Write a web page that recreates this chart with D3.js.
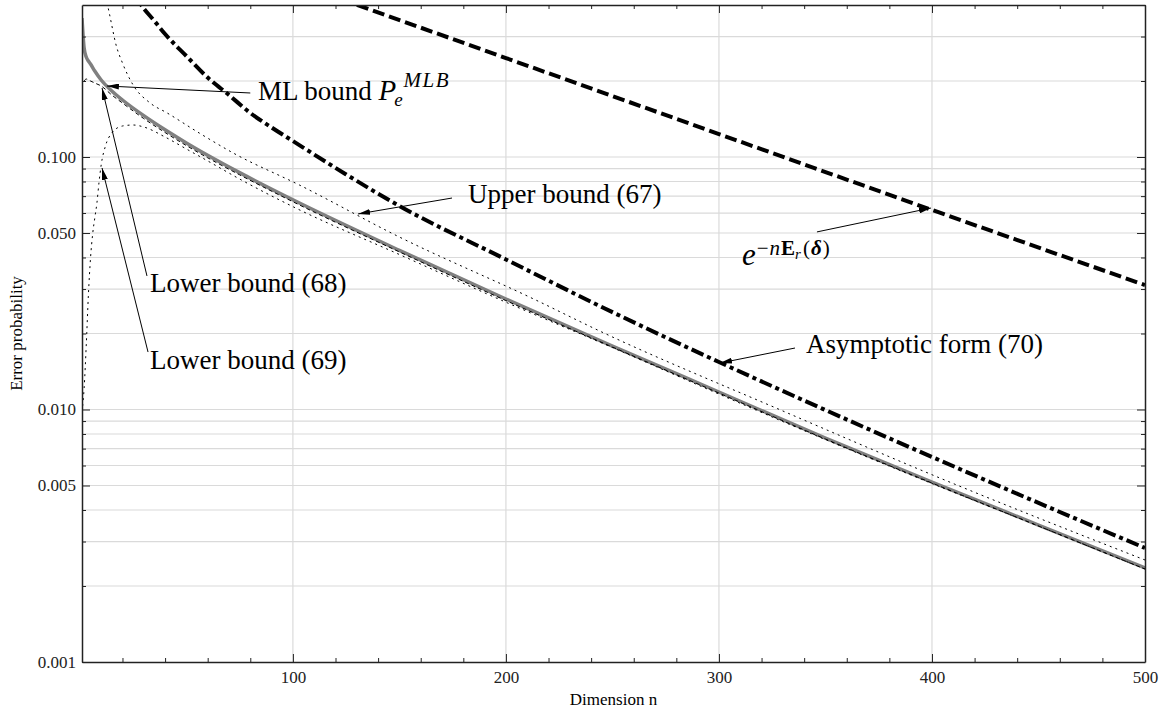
<!DOCTYPE html>
<html>
<head>
<meta charset="utf-8">
<script src="https://cdn.jsdelivr.net/npm/d3@7"></script>
<style>
  body { margin: 0; background: #fff; }
  svg { display: block; font-family: "Liberation Serif", "Times New Roman", serif; }
</style>
</head>
<body>
<svg id="chart"></svg>
<script>
// Values (dimension n -> error probability)
const mlN = [1, 2, 3, 4, 5, 7, 10, 15, 20, 30, 40, 50, 60, 75, 100, 150, 200, 250, 300, 350, 400, 450, 500];
const mlP = [0.3553, 0.2702, 0.2489, 0.2400, 0.2335, 0.2191, 0.2018, 0.1826, 0.1682, 0.1458, 0.1282, 0.1137,
  0.1016, 0.0867, 0.0677, 0.0427, 0.0274, 0.01784, 0.01173, 0.00771, 0.00516, 0.003487, 0.002357];

const lower68N = [2, 3, 4, 5, 7, 10, 15, 20, 30, 40, 50, 60, 75, 100, 150, 200, 250, 300, 350, 400, 450, 500];
const lower68P = [0.2000, 0.2037, 0.2018, 0.2000, 0.1964, 0.1911, 0.1760, 0.1636, 0.1420, 0.1250, 0.1110,
  0.0993, 0.0850, 0.0665, 0.0421, 0.0270, 0.01768, 0.01162, 0.00764, 0.005116, 0.003456, 0.002335];

const lower69N = [1, 2, 3, 4, 5, 6, 7, 8, 9, 10, 12, 15, 20, 25, 30, 40, 50, 60, 75, 100, 150, 200, 250, 300,
  350, 400, 450, 500];
const lower69P = [0.00978, 0.01217, 0.0180, 0.02841, 0.03981, 0.04955, 0.05733, 0.06573, 0.0796, 0.0930,
  0.1105, 0.1245, 0.1327, 0.1339, 0.1315, 0.1200, 0.1076, 0.0965, 0.0818, 0.0636, 0.0411, 0.0266, 0.0176,
  0.01151, 0.0076, 0.005093, 0.003456, 0.002335];

const upper67N = [11, 13, 14, 17, 20, 25, 33, 41, 56, 72, 103, 150, 213, 244, 329, 406, 500];
const upper67P = [0.48, 0.400, 0.365, 0.2777, 0.2357, 0.1928, 0.1636, 0.1494, 0.1245, 0.1037, 0.0775, 0.0482,
  0.0274, 0.02046, 0.00995, 0.005256, 0.002535];

const asym70N = [24, 28, 35, 40, 50, 60, 70, 80, 90, 100, 125, 150, 200, 250, 300, 350, 425, 500];
const asym70P = [0.467, 0.4092, 0.3456, 0.3070, 0.2512, 0.2064, 0.1760, 0.1494, 0.1309, 0.1157, 0.0853,
  0.0640, 0.0393, 0.0243, 0.01542, 0.00995, 0.005256, 0.002828];

const expN = [100, 200, 300, 400, 500];
const expP = [0.493, 0.2466, 0.1233, 0.0617, 0.0311];

// ticks
const xMajor = [100, 200, 300, 400, 500];
const xMinor = d3.range(20, 500, 20).filter(v => v % 100 !== 0);
const xGrid = [100, 200, 300, 400];
const yMajor = [0.001, 0.005, 0.01, 0.05, 0.1];
const yGrid = [0.002, 0.003, 0.004, 0.005, 0.006, 0.007, 0.008, 0.009, 0.01, 0.02, 0.03, 0.04, 0.05, 0.06,
  0.07, 0.08, 0.09, 0.1, 0.2, 0.3];
const yMinor = yGrid.filter(v => !yMajor.includes(v));

const W = 1164, H = 721;
const plot = {left: 82, right: 1145, top: 5, bottom: 662};

const svg = d3.select("#chart").attr("width", W).attr("height", H);

const x = d3.scaleLinear().domain([1, 500]).range([plot.left, plot.right]);
const y = d3.scaleLog().domain([0.001, 0.4]).range([plot.bottom, plot.top]);

const defs = svg.append("defs");
defs.append("clipPath").attr("id", "clip").append("rect")
    .attr("x", plot.left).attr("y", plot.top)
    .attr("width", plot.right - plot.left).attr("height", plot.bottom - plot.top);
defs.append("marker")
    .attr("id", "arrow")
    .attr("viewBox", "0 0 12 6")
    .attr("refX", 12).attr("refY", 3)
    .attr("markerWidth", 12).attr("markerHeight", 6)
    .attr("markerUnits", "userSpaceOnUse")
    .attr("orient", "auto")
  .append("path").attr("d", "M0,0L12,3L0,6Z").attr("fill", "#000");

// grid
const grid = svg.append("g").attr("stroke", "#dadada").attr("stroke-width", 1.2);
grid.selectAll(".gy").data(yGrid).join("line")
    .attr("x1", plot.left).attr("x2", plot.right)
    .attr("y1", d => y(d)).attr("y2", d => y(d));
grid.selectAll(".gx").data(xGrid).join("line")
    .attr("x1", d => x(d)).attr("x2", d => x(d))
    .attr("y1", plot.top).attr("y2", plot.bottom);

// curves
const series = [
  {n: mlN, p: mlP, stroke: "#808080", width: 3.5, dash: null, curve: d3.curveMonotoneX},
  {n: lower68N, p: lower68P, stroke: "#000", width: 1, dash: "4,3", curve: d3.curveMonotoneX},
  {n: lower69N, p: lower69P, stroke: "#000", width: 1, dash: "2,4", curve: d3.curveMonotoneX},
  {n: upper67N, p: upper67P, stroke: "#000", width: 1, dash: "2,4", curve: d3.curveMonotoneX},
  {n: asym70N, p: asym70P, stroke: "#000", width: 4, dash: "13,4,4,4", curve: d3.curveMonotoneX},
  {n: expN, p: expP, stroke: "#000", width: 4, dash: "12,5", curve: d3.curveLinear}
];

const curves = svg.append("g").attr("clip-path", "url(#clip)");
series.forEach(s => {
  const line = d3.line().x(d => x(d[0])).y(d => y(d[1])).curve(s.curve);
  curves.append("path")
      .datum(d3.zip(s.n, s.p))
      .attr("fill", "none")
      .attr("stroke", s.stroke)
      .attr("stroke-width", s.width)
      .attr("stroke-dasharray", s.dash)
      .attr("d", line);
});

// axes (ticks point inward)
function styleAxis(g) {
  g.attr("font-family", "'Liberation Serif', 'Times New Roman', serif")
   .attr("font-size", 17)
   .attr("color", "#222");
  g.select(".domain").attr("stroke-width", 1.5);
}
svg.append("g").attr("transform", `translate(0,${plot.bottom})`)
    .call(d3.axisBottom(x).tickValues(xMajor).tickSizeInner(-8).tickSizeOuter(0).tickPadding(9))
    .call(styleAxis);
svg.append("g").attr("transform", `translate(0,${plot.bottom})`)
    .call(d3.axisBottom(x).tickValues(xMinor).tickSizeInner(-4).tickSizeOuter(0).tickFormat(""))
    .call(g => g.select(".domain").remove()).attr("color", "#222");
svg.append("g").attr("transform", `translate(0,${plot.top})`)
    .call(d3.axisTop(x).tickValues(xMajor).tickSizeInner(-8).tickSizeOuter(0).tickFormat(""))
    .call(styleAxis);
svg.append("g").attr("transform", `translate(0,${plot.top})`)
    .call(d3.axisTop(x).tickValues(xMinor).tickSizeInner(-4).tickSizeOuter(0).tickFormat(""))
    .call(g => g.select(".domain").remove()).attr("color", "#222");

svg.append("g").attr("transform", `translate(${plot.left},0)`)
    .call(d3.axisLeft(y).tickValues(yMajor).tickFormat(d3.format(".3f")).tickSizeInner(-8).tickSizeOuter(0).tickPadding(6))
    .call(styleAxis);
svg.append("g").attr("transform", `translate(${plot.left},0)`)
    .call(d3.axisLeft(y).tickValues(yMinor).tickFormat("").tickSizeInner(-4).tickSizeOuter(0))
    .call(g => g.select(".domain").remove()).attr("color", "#222");
svg.append("g").attr("transform", `translate(${plot.right},0)`)
    .call(d3.axisRight(y).tickValues(yMajor).tickFormat("").tickSizeInner(-8).tickSizeOuter(0))
    .call(styleAxis);
svg.append("g").attr("transform", `translate(${plot.right},0)`)
    .call(d3.axisRight(y).tickValues(yMinor).tickFormat("").tickSizeInner(-4).tickSizeOuter(0))
    .call(g => g.select(".domain").remove()).attr("color", "#222");

// axis titles
svg.append("text")
    .attr("x", (plot.left + plot.right) / 2).attr("y", 705)
    .attr("text-anchor", "middle").attr("font-size", 17)
    .text("Dimension n");
svg.append("text")
    .attr("transform", `translate(22,${(plot.top + plot.bottom) / 2}) rotate(-90)`)
    .attr("text-anchor", "middle").attr("font-size", 17)
    .text("Error probability");

// annotations: arrows in data coordinates [n, p]
const arrows = [
  {tail: [80, 0.1793], tip: [12.7, 0.1911]},     // ML bound
  {tail: [174.7, 0.0688], tip: [130.6, 0.0595]}, // upper (67)
  {tail: [346, 0.0505], tip: [399.5, 0.0628]},   // exponent
  {tail: [335.7, 0.01752], tip: [300.5, 0.01528]}, // asymptotic (70)
  {tail: [31.5, 0.0338], tip: [10.4, 0.1876]},   // lower (68)
  {tail: [32, 0.01689], tip: [10.4, 0.0905]}     // lower (69)
];
svg.append("g").selectAll("line").data(arrows).join("line")
    .attr("x1", d => x(d.tail[0])).attr("y1", d => y(d.tail[1]))
    .attr("x2", d => x(d.tip[0])).attr("y2", d => y(d.tip[1]))
    .attr("stroke", "#000").attr("stroke-width", 1)
    .attr("marker-end", "url(#arrow)");

const labels = [
  {text: "Upper bound (67)", at: [182.2, 0.0657]},
  {text: "Asymptotic form (70)", at: [340.9, 0.01674]},
  {text: "Lower bound (68)", at: [32.9, 0.0292]},
  {text: "Lower bound (69)", at: [32.9, 0.01446]}
];
svg.append("g").selectAll("text").data(labels).join("text")
    .attr("x", d => x(d.at[0])).attr("y", d => y(d.at[1]))
    .attr("font-size", 27)
    .text(d => d.text);

// ML bound P_e^{MLB}
const mlAt = [83.6, 0.1682];
const mlText = svg.append("text").attr("x", x(mlAt[0])).attr("y", y(mlAt[1])).attr("font-size", 27);
mlText.append("tspan").text("ML bound ");
mlText.append("tspan").attr("font-style", "italic").attr("font-size", 29).text("P");
mlText.append("tspan").attr("font-style", "italic").attr("font-size", 19)
    .attr("dx", -2).attr("dy", 6).text("e");
mlText.append("tspan").attr("font-style", "italic").attr("font-size", 21)
    .attr("dx", 1).attr("dy", -19).attr("letter-spacing", 1.5).text("MLB");

// e^{-n E_r(delta)}
const eAt = [310.8, 0.0372];
const eText = svg.append("text").attr("x", x(eAt[0])).attr("y", y(eAt[1])).attr("font-size", 31);
eText.append("tspan").attr("font-style", "italic").text("e");
eText.append("tspan").attr("font-size", 21).attr("dy", -10).attr("dx", 1).text("\u2212");
eText.append("tspan").attr("font-size", 21).attr("font-style", "italic").attr("dx", 1).text("n");
eText.append("tspan").attr("font-size", 21).attr("font-weight", "bold").attr("dx", 1).text("E");
eText.append("tspan").attr("font-size", 15).attr("font-style", "italic").attr("dy", 4).text("r");
eText.append("tspan").attr("font-size", 21).attr("dy", -4).attr("dx", 2).text("(");
eText.append("tspan").attr("font-size", 21).attr("font-weight", "bold").attr("font-style", "italic").attr("dx", 1).text("\u03b4");
eText.append("tspan").attr("font-size", 21).attr("dx", 1).text(")");
</script>
</body>
</html>
